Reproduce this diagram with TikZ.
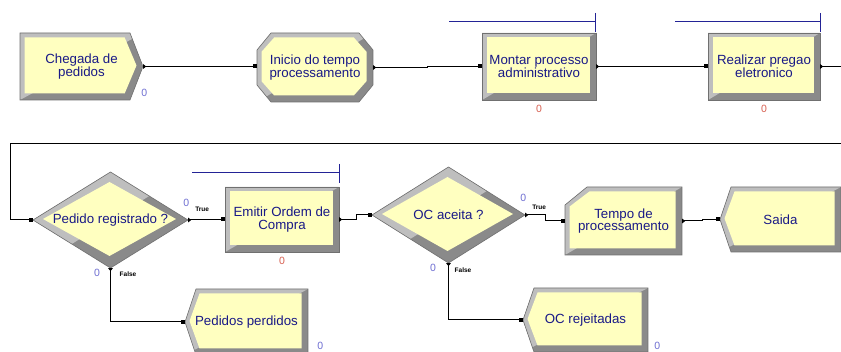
\documentclass[tikz,border=0pt]{standalone}
\usepackage{fontspec}
\setmainfont{Liberation Sans}
\usepackage{tikz}
\usetikzlibrary{positioning}
\usetikzlibrary{arrows.meta}

\definecolor{modyellow}{RGB}{255,255,192}
\definecolor{bevlight}{RGB}{190,190,190}
\definecolor{bevdark}{RGB}{138,138,138}
\definecolor{bevedge}{RGB}{112,112,112}
\definecolor{modtext}{RGB}{25,25,135}
\definecolor{qblue}{RGB}{35,35,150}
\definecolor{cntblue}{RGB}{110,110,210}
\definecolor{cntred}{RGB}{215,95,80}

\tikzset{
  modlabel/.style={align=center, text=modtext, font=\fontsize{13.3}{12.8}\selectfont, inner sep=0pt},
  conn/.style={draw=black, line width=1pt, {Triangle[reversed,length=3pt,width=4.5pt]}-{Square[length=4pt,width=4pt]}},
  cnt/.style={font=\fontsize{10.5}{10.5}\selectfont, inner sep=0pt},
  branch/.style={font=\fontsize{6.5}{7}\selectfont\bfseries, inner sep=0pt},
  queue/.style={draw=qblue, line width=1pt},
}

% outlines, a = half width, b = half height (y grows downwards)
\newcommand{\shpProc}[2]{(-#1,-#2) -- (#1,-#2) -- (#1,#2) -- (-#1,#2) -- cycle}
\newcommand{\shpCreate}[2]{(-#1,-#2) -- ({#1-13},-#2) -- (#1,0) -- ({#1-13},#2) -- (-#1,#2) -- cycle}
\newcommand{\shpOct}[2]{({-#1+14},-#2) -- ({#1-14},-#2) -- (#1,{-#2+17}) -- (#1,{#2-17}) -- ({#1-14},#2) -- ({-#1+14},#2) -- (-#1,{#2-17}) -- (-#1,{-#2+17}) -- cycle}
\newcommand{\shpRecord}[2]{({-#1+22},-#2) -- (#1,-#2) -- (#1,#2) -- (-#1,#2) -- (-#1,{-#2+18}) -- cycle}
\newcommand{\shpDispose}[2]{({-#1+11},-#2) -- (#1,-#2) -- (#1,#2) -- ({-#1+11},#2) -- (-#1,0) -- cycle}
\newcommand{\shpDecide}[2]{(-#1,0) -- (0,-#2) -- (#1,0) -- (0,#2) -- cycle}

% [bevel]{name}{outline}{centre}{a}{b}{text}
\newcommand{\arenamod}[7][5.5]{%
  \begin{scope}[shift={#4}]
    \begin{scope}
      \clip #3{#5}{#6};
      \fill[bevdark] (-#5,-#6) rectangle (#5,#6);
      \fill[bevlight] (-#5,-#6) -- (#5,-#6) -- (-#5,#6) -- cycle;
    \end{scope}
    \draw[bevedge, line width=0.6pt] #3{#5}{#6};
    \fill[modyellow, shift={(-1,-1)}, xscale={(#5-#1)/#5}, yscale={(#6-#1)/#6}] #3{#5}{#6};
  \end{scope}
  \node[modlabel, minimum width={2*#5pt}, minimum height={2*#6pt}] (#2) at #4 {#7};
}

\begin{document}
\begin{tikzpicture}[x=1pt,y=-1pt]
\fill[white] (0,0) rectangle (841,352);
\useasboundingbox (0,0) rectangle (841,352);

% first row
\arenamod{chegada}{\shpCreate}{(81.5,66.5)}{61.5}{33.5}{Chegada de\\pedidos}
\arenamod{inicio}{\shpOct}{(315,67.5)}{58}{34.5}{Inicio do tempo\\processamento}
\arenamod{montar}{\shpProc}{(539,66.5)}{57}{33.5}{Montar processo\\administrativo}
\arenamod{realizar}{\shpProc}{(764,66.5)}{56}{33.5}{Realizar pregao\\eletronico}

% second row
\arenamod[11]{pedido}{\shpDecide}{(110.5,220)}{77.5}{48}{Pedido registrado ?}
\arenamod{emitir}{\shpProc}{(282,219.5)}{57}{32.5}{Emitir Ordem de\\Compra}
\arenamod[11]{ocaceita}{\shpDecide}{(448.5,215)}{76.5}{48}{OC aceita ?}
\arenamod{tempo}{\shpRecord}{(623.5,221)}{58.5}{34}{Tempo de\\processamento}
\arenamod{saida}{\shpDispose}{(780.5,219.5)}{60.5}{32.5}{Saida}
\arenamod{perdidos}{\shpDispose}{(246.5,322)}{61.5}{33}{Pedidos perdidos}
\arenamod{ocrej}{\shpDispose}{(585.5,320)}{62.5}{32}{OC rejeitadas}

% queues
\foreach \qa/\qb/\qy in {449/595/22, 675/820/22, 192/339/173} {
  \draw[queue] (\qa,\qy) -- (\qb,\qy) (\qb,\qy-9) -- (\qb,\qy+10);
}

% counters
\node[cnt, text=cntblue] (chegadacnt) at ([shift={(1,-7)}]chegada.south east) {0};
\node[cnt, text=cntred, below=5pt of montar] (montarcnt) {0};
\node[cnt, text=cntred, below=5pt of realizar] (realizarcnt) {0};
\node[cnt, text=cntred, below=5pt of emitir] (emitircnt) {0};
\node[cnt, text=cntblue] (pedidotcnt) at ([shift={(-2,-17)}]pedido.east) {0};
\node[cnt, text=cntblue] (pedidofcnt) at ([shift={(-13.5,5)}]pedido.south) {0};
\node[cnt, text=cntblue] (octcnt) at ([shift={(-2,-17)}]ocaceita.east) {0};
\node[cnt, text=cntblue] (ocfcnt) at ([shift={(-15.5,5)}]ocaceita.south) {0};
\node[cnt, text=cntblue] (perdidoscnt) at ([shift={(12,-9)}]perdidos.south east) {0};
\node[cnt, text=cntblue] (ocrejcnt) at ([shift={(9,-6)}]ocrej.south east) {0};
\node[branch] (pedidotrue) at ([shift={(14,-11)}]pedido.east) {True};
\node[branch] (pedidofalse) at ([shift={(17.5,6)}]pedido.south) {False};
\node[branch] (octrue) at ([shift={(14,-8)}]ocaceita.east) {True};
\node[branch] (ocfalse) at ([shift={(14.5,7)}]ocaceita.south) {False};

% connectors
\coordinate (loopR) at (850,144);
\coordinate (loopL) at (10,144);
\draw[conn] (chegada.east) -- (chegada.east -| inicio.west);
\draw[conn] (inicio.east) -- ++(54,0) |- (montar.west);
\draw[conn] (montar.east) -- (realizar.west);
\draw[conn] (realizar.east) -| (loopR) -- (loopL) |- (pedido.west);
\draw[conn] (pedido.east) -- ++(18,0) |- (emitir.west);
\draw[conn] (emitir.east) -- ++(17,0) |- (ocaceita.west);
\draw[conn] (ocaceita.east) -- ++(20,0) |- (tempo.west);
\draw[conn] (tempo.east) -- ++(20,0) |- (saida.west);
\draw[conn] (pedido.south) |- (perdidos.west);
\draw[conn] (ocaceita.south) |- (ocrej.west);
\end{tikzpicture}
\end{document}
